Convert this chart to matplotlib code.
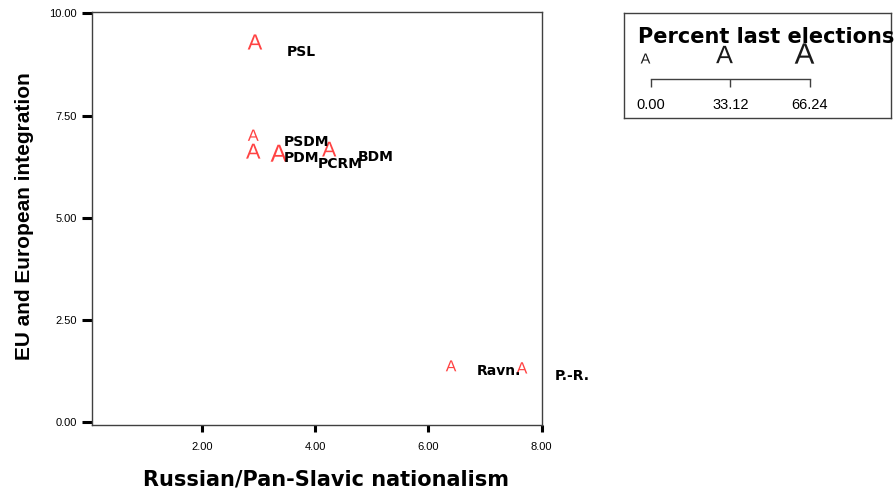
import numpy as np
import matplotlib
matplotlib.use("Agg")
import matplotlib.pyplot as plt

# parties, position on the two scales and share of vote (sizes of the "A" markers)
parties = ["PSL", "PSDM", "PDM", "PCRM", "BDM", "Ravn.", "P.-R."]
nationalism = [2.94, 2.91, 2.91, 3.36, 4.25, 6.40, 7.65]
eu_integration = [9.30, 7.02, 6.63, 6.58, 6.68, 1.38, 1.33]
percent_last = [16.0, 1.0, 15.0, 30.0, 14.0, 0.5, 1.0]

legend_values = [0.00, 33.12, 66.24]
x_ticks = [2, 4, 6, 8]
y_ticks = [0, 2.5, 5, 7.5, 10]

# where each label sits relative to its marker (pixels)
label_offsets = [(32, -10), (30, -7), (30, -7), (39, -11), (29, -8), (26, -5), (33, -8)]

plt.rcParams["mathtext.fontset"] = "custom"
plt.rcParams["mathtext.rm"] = "Liberation Sans"

RED = "#ff4343"
EDGE = "#404040"
A_MARK = r"$\mathrm{A}$"


def glyph_height(p):
    # height of the "A" in pixels, grows with sqrt of the percent
    return 10 + 1.27 * np.sqrt(np.asarray(p, dtype=float))


def marker_size(p):
    return (glyph_height(p) * 0.72) ** 2


fig = plt.figure(figsize=(8.95, 4.92), dpi=100)

# ---- main scatter ----
ax = fig.add_axes([0.1025, 0.1362, 0.5028, 0.840])
ax.scatter(nationalism, eu_integration, s=marker_size(percent_last),
           marker=A_MARK, color=RED, linewidths=0)
for name, x, y, off in zip(parties, nationalism, eu_integration, label_offsets):
    ax.annotate(name, (x, y), xytext=off, textcoords="offset pixels",
                ha="left", va="center", fontsize=10, fontweight="bold",
                family="DejaVu Sans", color="black")

ax.set_xlim(0.06, 8.0)
ax.set_ylim(-0.066, 10.04)
ax.set_xticks(x_ticks)
ax.set_xticklabels([f"{v:.2f}" for v in x_ticks], family="Liberation Sans", fontsize=8)
ax.set_yticks(y_ticks)
ax.set_yticklabels([f"{v:.2f}" for v in y_ticks], family="Liberation Sans", fontsize=8)
ax.tick_params(axis="x", direction="out", length=5, width=2.2, pad=7, color="black")
ax.tick_params(axis="y", direction="out", length=7, width=2.2, pad=3.5, color="black")
for sp in ax.spines.values():
    sp.set_color(EDGE)
    sp.set_linewidth(1)

ax.set_xlabel("Russian/Pan-Slavic nationalism", fontsize=15, fontweight="bold",
              family="DejaVu Sans", va="center")
ax.xaxis.set_label_coords(0.52, -0.131)
ax.set_ylabel("EU and European integration", fontsize=15, fontweight="bold",
              family="Liberation Sans", va="center")
ax.yaxis.set_label_coords(-0.150, 0.5045)

# ---- size legend ----
lax = fig.add_axes([0.6972, 0.760, 0.2983, 0.214])
lax.set_xlim(-11.25, 99.98)
lax.set_ylim(0, 1)
lax.set_xticks([])
lax.set_yticks([])
for sp in lax.spines.values():
    sp.set_color(EDGE)
    sp.set_linewidth(1)

lax.text(0.052, 0.774, "Percent last elections", transform=lax.transAxes,
         ha="left", va="center", fontsize=15, fontweight="bold",
         family="DejaVu Sans", clip_on=False)

box_h = 105.3
for v in legend_values:
    h = glyph_height(v)
    yc = (118 - (63 - h / 2)) / box_h
    lax.scatter([v - 2.5], [yc], s=marker_size(v), marker=A_MARK, color="#1a1a1a",
                linewidths=0, clip_on=False)

lax.plot([legend_values[0], legend_values[-1]], [0.3675, 0.3675], color=EDGE, lw=1)
lax.vlines(legend_values, 0.294, 0.3675, color=EDGE, lw=1)
for v in legend_values:
    lax.text(v, 0.123, f"{v:.2f}", ha="center", va="center", fontsize=10.5,
             family="Liberation Sans")

fig.savefig("out.png", dpi=100)
